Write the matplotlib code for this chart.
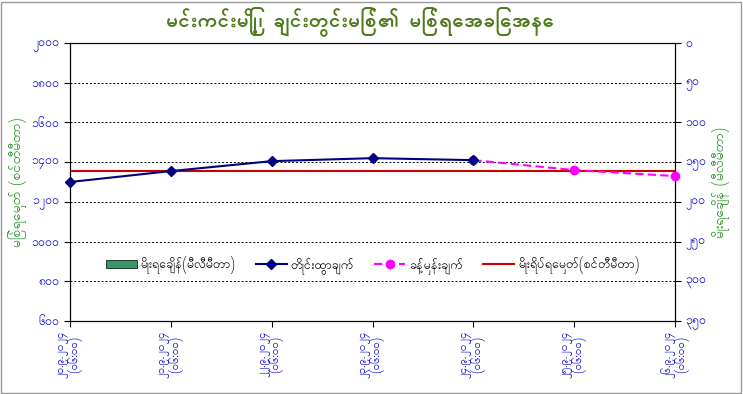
import matplotlib
matplotlib.use("Agg")
import matplotlib.pyplot as plt
from matplotlib.patches import Rectangle

plt.rcParams['font.family'] = ['Padauk', 'Noto Sans Myanmar UI', 'DejaVu Sans']

categories = ["၂၀.၉.၂၀၂၄\n(၀၆:၀၀)", "၂၁.၉.၂၀၂၄\n(၀၆:၀၀)", "၂၂.၉.၂၀၂၄\n(၀၆:၀၀)",
              "၂၃.၉.၂၀၂၄\n(၀၆:၀၀)", "၂၄.၉.၂၀၂၄\n(၀၆:၀၀)", "၂၅.၉.၂၀၂၄\n(၀၆:၀၀)",
              "၂၆.၉.၂၀၂၄\n(၀၆:၀၀)"]
rainfall = [0, 0, 0, 0, 0, 0, 0]
observed = [1300, 1355, 1405, 1420, 1410]
forecast_x = [4, 5, 6]
forecast = [1410, 1360, 1330]
danger_level = 1355
left_ticks = [600, 800, 1000, 1200, 1400, 1600, 1800, 2000]
left_labels = ["၆၀၀", "၈၀၀", "၁၀၀၀", "၁၂၀၀", "၁၄၀၀", "၁၆၀၀", "၁၈၀၀", "၂၀၀၀"]
right_ticks = [0, 50, 100, 150, 200, 250, 300, 350]
right_labels = ["၀", "၅၀", "၁၀၀", "၁၅၀", "၂၀၀", "၂၅၀", "၃၀၀", "၃၅၀"]

title = "မင်းကင်းမြို့၊ ချင်းတွင်းမြစ်၏ မြစ်ရေအခြေအနေ"
ylabel_left = "မြစ်ရေမှတ် (စင်တီမီတာ)"
ylabel_right = "မိုးရေချိန် (မီလီမီတာ)"
leg_labels = ["မိုးရေချိန်(မီလီမီတာ)", "တိုင်းထွာချက်", "ခန့်မှန်းချက်", "မိုးရိပ်ရေမှတ်(စင်တီမီတာ)"]

tick_color = "#0000CC"
green = "#1E8C1E"

fig = plt.figure(figsize=(7.43, 3.94), dpi=100)
fig.patches.append(Rectangle((0.002, 0.003), 0.995, 0.993, transform=fig.transFigure,
                             fill=False, edgecolor="#999999", linewidth=1))

ax = fig.add_axes([70/743, 1-321/394, 605/743, 278/394])
ax2 = ax.twinx()
ax2.set_zorder(0)
ax.set_zorder(1)
ax.patch.set_visible(False)
ax2.set_facecolor("#CCFFFF")

x = list(range(len(categories)))
bars = ax2.bar(x, rainfall, width=0.5, color="#339966", edgecolor="black", linewidth=0.5)
ax2.set_ylim(350, 0)
ax2.set_yticks(right_ticks)
ax2.set_yticklabels(right_labels, color=tick_color, fontsize=9)
ax2.set_ylabel(ylabel_right, color=green, fontsize=10, labelpad=4)

for y in left_ticks[1:-1]:
    ax.axhline(y, color="black", linestyle=(0, (2, 2)), linewidth=0.7, zorder=1)

l_obs, = ax.plot(x[:len(observed)], observed, color="#000080", marker="D", markersize=5,
                 linewidth=1.5, zorder=4, clip_on=False)
l_fc, = ax.plot(forecast_x, forecast, color="#FF00FF", marker="o", markersize=6,
                linewidth=1.5, linestyle=(0, (4, 2)), zorder=3, clip_on=False)
l_dg = ax.axhline(danger_level, color="#CC0000", linewidth=1.5, zorder=2)

ax.set_xlim(0, 6)
ax.set_ylim(600, 2000)
ax.set_yticks(left_ticks)
ax.set_yticklabels(left_labels, color=tick_color, fontsize=9)
ax.set_xticks(x)
ax.set_xticklabels(categories, rotation=90, color=tick_color, fontsize=8.3, va="top",
                   linespacing=0.85)
ax.set_ylabel(ylabel_left, color=green, fontsize=10, labelpad=3)
ax.tick_params(axis="both", direction="out", length=4)
ax.tick_params(axis="x", pad=3)
ax2.tick_params(axis="y", direction="out", length=4)

leg = ax.legend([bars, l_obs, l_fc, l_dg], leg_labels, loc="center", bbox_to_anchor=(0.5, 0.2),
                ncol=4, frameon=False, fontsize=9, handlelength=2.5, columnspacing=1.6,
                handletextpad=0.3)

fig.text(0.485, 0.944, title, ha="center", va="center", color="#4D7A1A", fontsize=15, fontweight="bold")

fig.savefig("out.png", dpi=100)
